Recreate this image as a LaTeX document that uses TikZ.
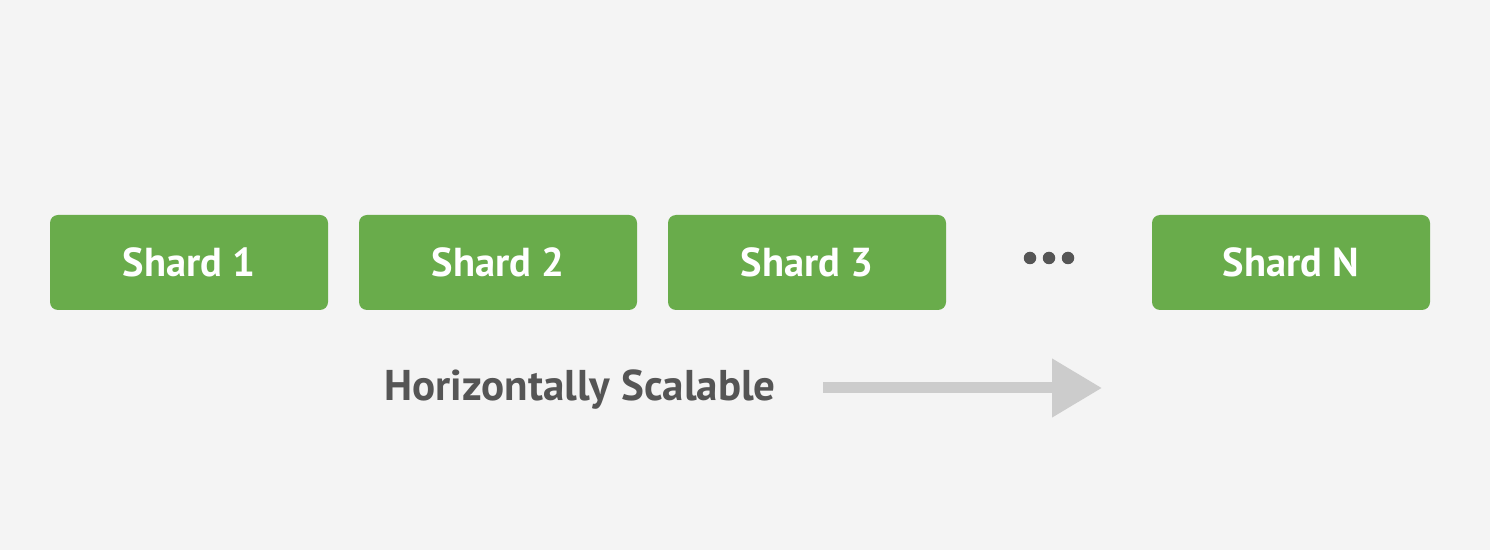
\documentclass[tikz,border=0pt]{standalone}
\usepackage{fontspec}
\setmainfont{PT Sans}
\usetikzlibrary{arrows.meta}
\definecolor{shardgreen}{HTML}{69AC4B}
\definecolor{pagebg}{HTML}{F4F4F4}
\definecolor{labelgray}{HTML}{555555}
\definecolor{arrowgray}{HTML}{CCCCCC}
\tikzset{
  shardbox/.style={fill=shardgreen, rounded corners=0.16cm, minimum width=5.56cm,
    minimum height=1.9cm, text=white, font=\fontsize{23}{28}\selectfont\bfseries},
  dotmark/.style={fill=labelgray, circle, inner sep=0pt, minimum size=0.25cm},
  scalelabel/.style={text=labelgray, font=\fontsize{24.5}{29}\selectfont\bfseries}
}
\begin{document}
\begin{tikzpicture}
        \fill[pagebg] (0,0) rectangle (29.8,11);
        \useasboundingbox (0,0) rectangle (29.8,11);
        % Row of shards
        \foreach \x/\name/\txt in {3.78/s1/Shard 1,9.96/s2/Shard 2,16.14/s3/Shard 3,25.82/sn/Shard N}
        {
            \node[shardbox] (\name) at (\x,5.75) {\txt};
        }
        % Gap between shard 3 and shard N
        \foreach \x/\name in {20.6/d1,20.98/d2,21.36/d3}
        {
            \node[dotmark] (\name) at (\x,5.84) {};
        }
        % Growth direction
        \node[scalelabel] (scale) at (11.6,3.2) {Horizontally Scalable};
        \coordinate (arrS) at (16.46,3.24);
        \coordinate (arrE) at (22.04,3.24);
        \draw[arrowgray, line width=0.22cm, -{Triangle[length=1cm,width=1.12cm]}] (arrS) -- (arrE);
    \end{tikzpicture}
\end{document}
